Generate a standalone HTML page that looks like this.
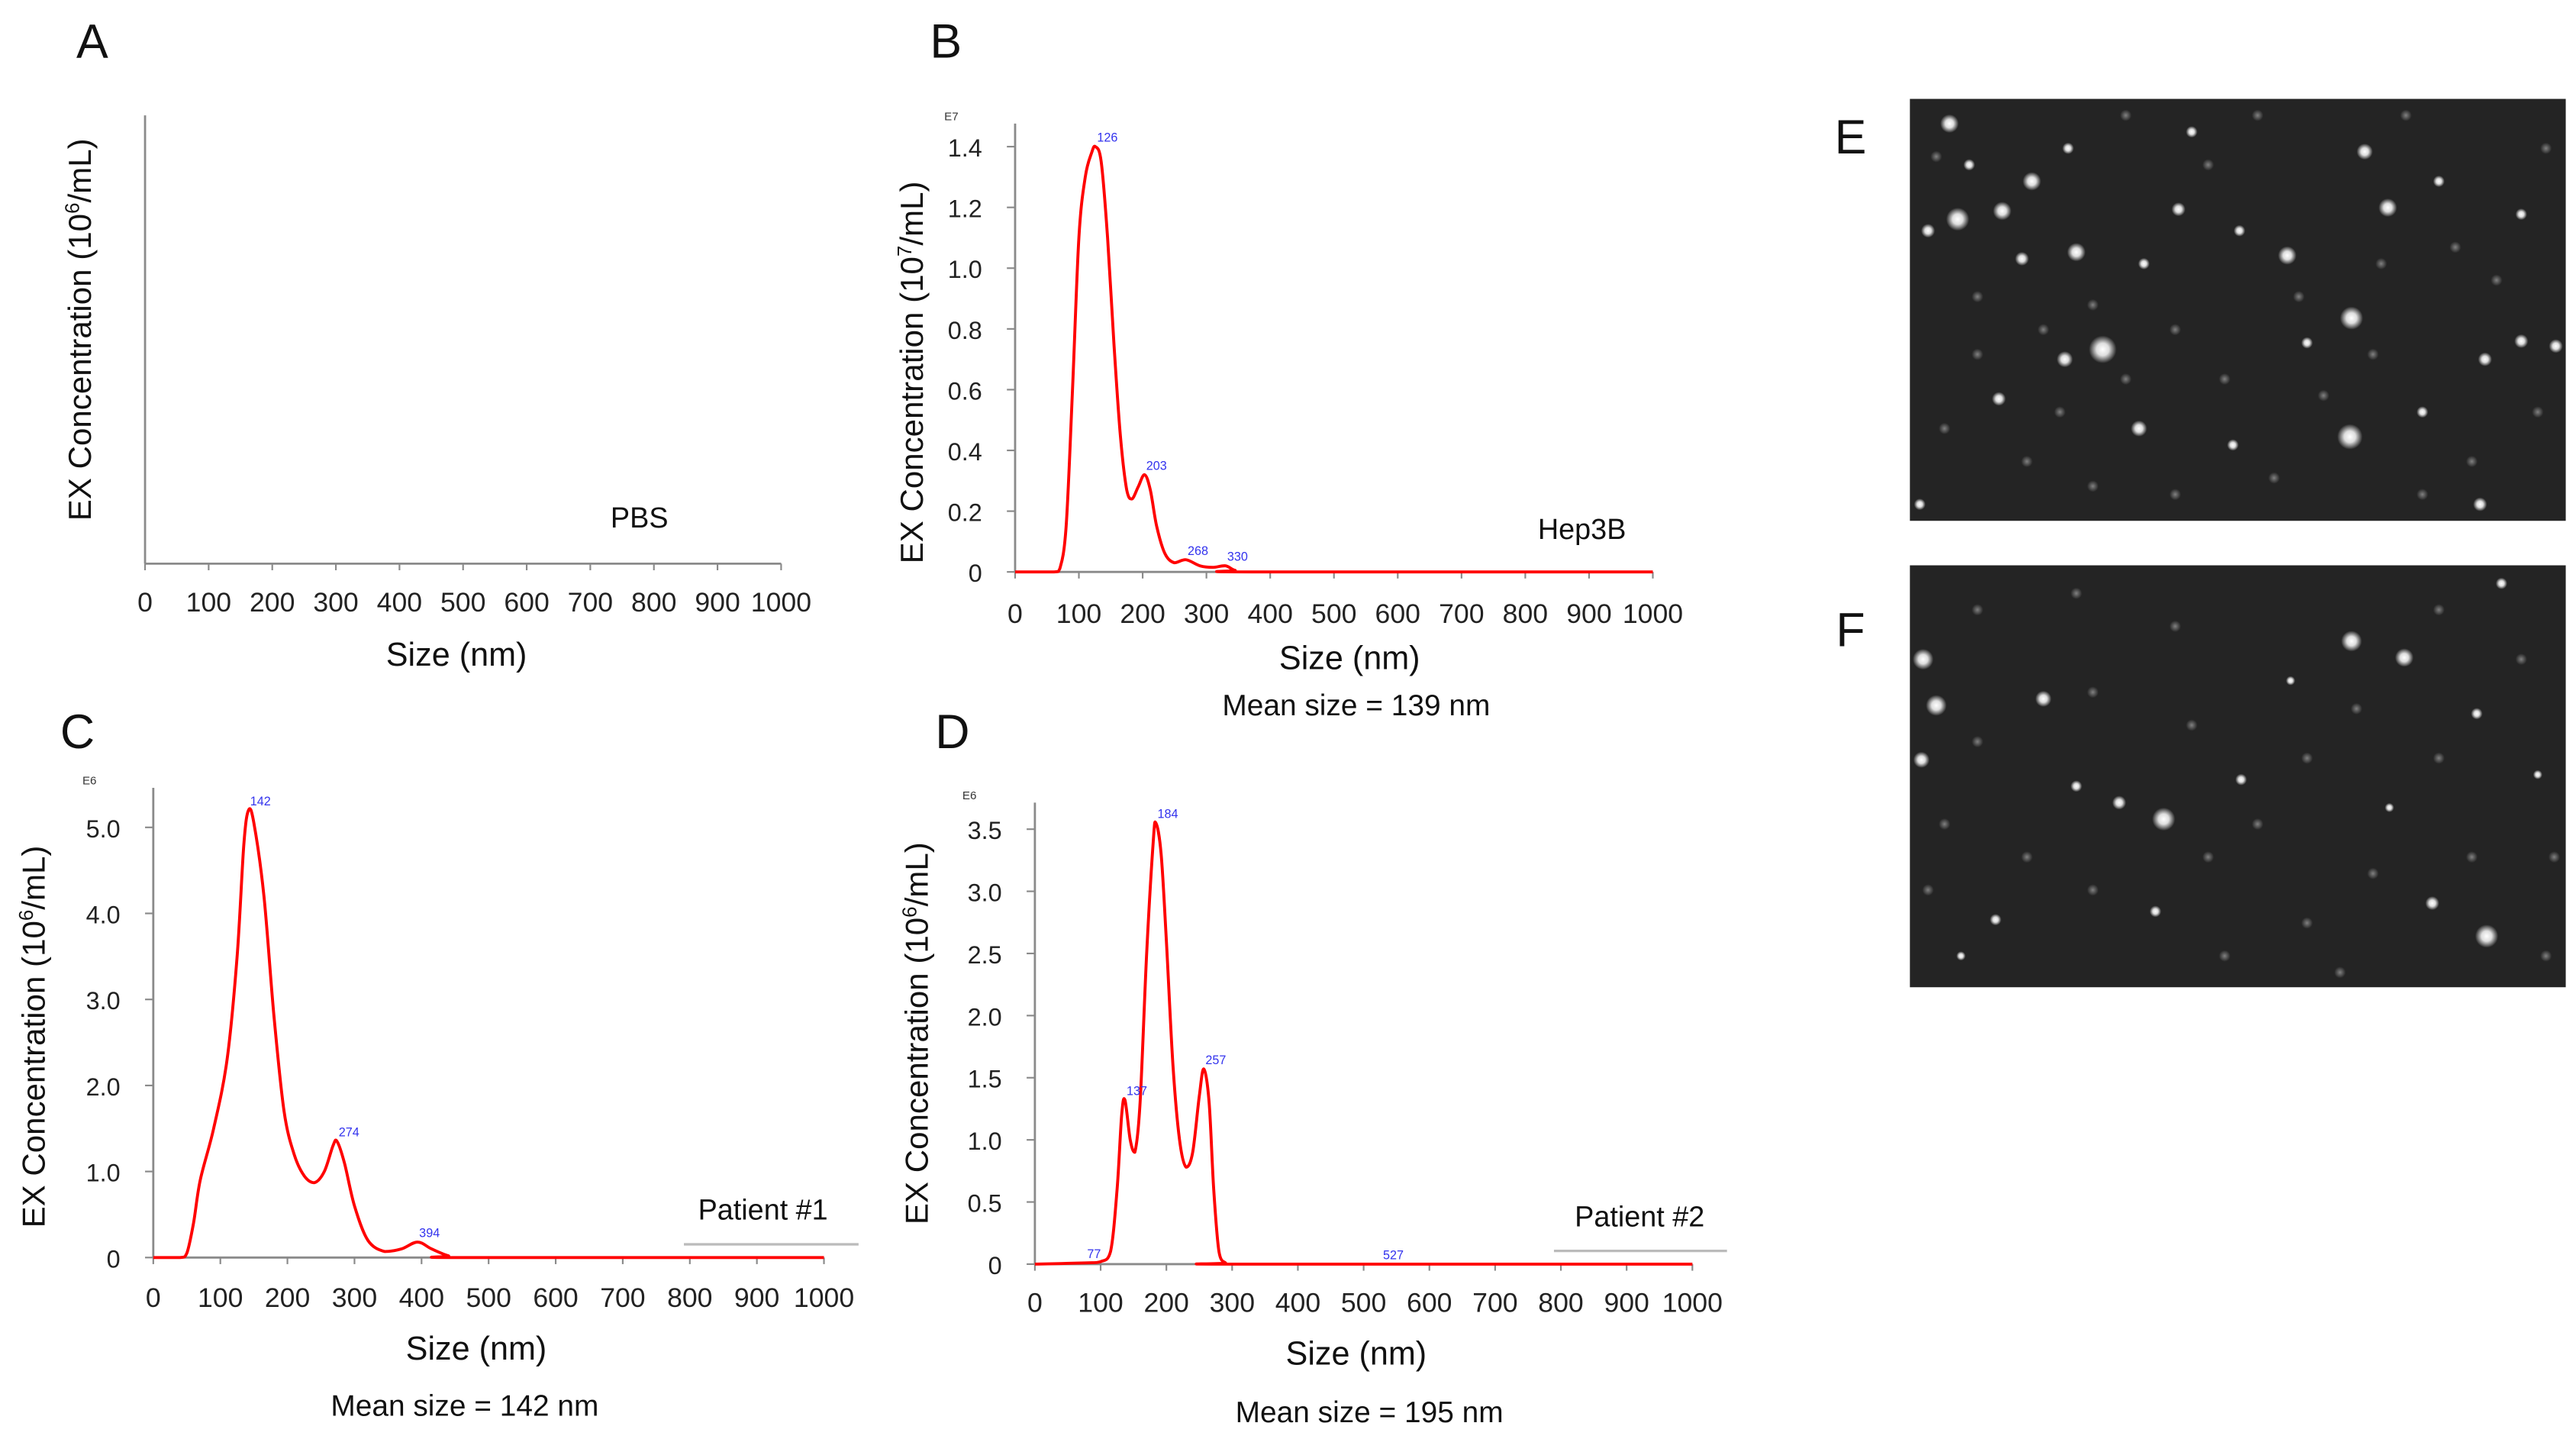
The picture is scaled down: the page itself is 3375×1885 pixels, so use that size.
<!DOCTYPE html>
<html><head><meta charset="utf-8"><style>
html,body{margin:0;padding:0;background:#fff;}
svg{display:block;}
text{font-family:"Liberation Sans",sans-serif;}
</style></head><body>
<svg id="fig" width="3375" height="1885" viewBox="0 0 1563.2 873.1" xmlns="http://www.w3.org/2000/svg">
<defs>
<radialGradient id="dot" cx="50%" cy="50%" r="50%">
<stop offset="0%" stop-color="#fff" stop-opacity="1"/>
<stop offset="45%" stop-color="#fff" stop-opacity="0.85"/>
<stop offset="100%" stop-color="#fff" stop-opacity="0"/>
</radialGradient>
<radialGradient id="faint" cx="50%" cy="50%" r="50%">
<stop offset="0%" stop-color="#aaa" stop-opacity="0.7"/>
<stop offset="100%" stop-color="#aaa" stop-opacity="0"/>
</radialGradient>
</defs>
<g id="root"></g>
</svg>
<script>
// ---- data ----
const xTicks = [0,100,200,300,400,500,600,700,800,900,1000];
const bSizes = [0,60,70,80,90,100,110,120,126,135,145,155,165,175,183,193,203,212,222,235,250,268,290,310,330,345,370,1000];
const bVals  = [0,0,0.01,0.15,0.6,1.1,1.3,1.38,1.4,1.35,1.1,0.75,0.45,0.27,0.24,0.28,0.32,0.27,0.15,0.06,0.03,0.04,0.02,0.015,0.02,0.005,0,0];
const bYTicks = [0,0.2,0.4,0.6,0.8,1.0,1.2,1.4];
const bYLabels = ["0","0.2","0.4","0.6","0.8","1.0","1.2","1.4"];
const bPeaks = [126,203,268,330];
const bPeakVals = [1.4,0.32,0.04,0.02];
const cSizes = [0,40,50,60,70,90,110,125,135,142,150,165,180,195,210,225,240,255,268,274,285,300,320,345,370,394,415,440,460,1000];
const cVals  = [0,0,0.05,0.4,0.9,1.5,2.3,3.5,4.8,5.2,5.05,4.2,2.8,1.7,1.2,0.95,0.87,1.0,1.3,1.35,1.1,0.6,0.2,0.07,0.1,0.18,0.1,0.02,0,0];
const cYTicks = [0,1,2,3,4,5];
const cYLabels = ["0","1.0","2.0","3.0","4.0","5.0"];
const cPeaks = [142,274,394];
const cPeakVals = [5.2,1.35,0.18];
const dSizes = [0,77,100,115,125,132,137,145,152,160,170,180,184,192,200,210,220,230,240,250,257,265,272,280,290,300,1000];
const dVals  = [0,0.01,0.02,0.1,0.6,1.2,1.32,1.0,0.9,1.3,2.5,3.4,3.55,3.3,2.6,1.6,1.0,0.78,0.9,1.35,1.57,1.3,0.6,0.1,0.01,0,0];
const dYTicks = [0,0.5,1,1.5,2,2.5,3,3.5];
const dYLabels = ["0","0.5","1.0","1.5","2.0","2.5","3.0","3.5"];
const dPeaks = [77,137,184,257,527];
const dPeakVals = [0.01,1.32,3.55,1.57,0];

const NS = "http://www.w3.org/2000/svg";
const root = document.getElementById('root');
function mk(tag, attrs, parent, txt){
  const e = document.createElementNS(NS, tag);
  for (const k in attrs) e.setAttribute(k, attrs[k]);
  if (txt !== undefined) e.textContent = txt;
  (parent||root).appendChild(e);
  return e;
}
function smooth(pts){
  let d = "M"+pts[0][0]+","+pts[0][1];
  for (let i=0;i<pts.length-1;i++){
    const p0=pts[Math.max(0,i-1)], p1=pts[i], p2=pts[i+1], p3=pts[Math.min(pts.length-1,i+2)];
    let c1y = p1[1]+(p2[1]-p0[1])/6, c2y = p2[1]-(p3[1]-p1[1])/6;
    const lo=Math.max(p1[1],p2[1]);
    c1y=Math.min(c1y,lo); c2y=Math.min(c2y,lo);
    const c1x = p1[0]+(p2[0]-p0[0])/6, c2x = p2[0]-(p3[0]-p1[0])/6;
    d += " C"+c1x+","+c1y+" "+c2x+","+c2y+" "+p2[0]+","+p2[1];
  }
  return d;
}

function panel(cfg){
  const g = mk('g', {});
  
  
  const X = v => cfg.x0 + (cfg.x1-cfg.x0)*v/1000;
  const Y = v => cfg.y0 - v*cfg.perUnit;
  const ax = mk('line',{x1:cfg.x0,y1:cfg.y0,x2:cfg.x1,y2:cfg.y0,stroke:'#8a8a8a','stroke-width':1.3},g);
   
  const ay = mk('line',{x1:cfg.x0,y1:cfg.y0,x2:cfg.x0,y2:cfg.top,stroke:'#8a8a8a','stroke-width':1.3},g);
   
  xTicks.forEach(t=>{
    mk('line',{x1:X(t),y1:cfg.y0,x2:X(t),y2:cfg.y0+4,stroke:'#8a8a8a','stroke-width':1},g);
    const tl = mk('text',{x:X(t),y:cfg.xLabY,'font-size':16.5,'text-anchor':'middle',fill:'#222'},g,String(t));
     
  });
  if (cfg.yTicks){
    cfg.yTicks.forEach((t,i)=>{
      mk('line',{x1:cfg.x0-5,y1:Y(t),x2:cfg.x0,y2:Y(t),stroke:'#8a8a8a','stroke-width':1},g);
      const tl = mk('text',{x:cfg.x0-20,y:Y(t)+6,'font-size':15,'text-anchor':'end',fill:'#222'},g,cfg.yLabels[i]);
       
    });
    const ex = mk('text',{x:cfg.expX,y:cfg.expY,'font-size':7,fill:'#333'},g,cfg.exp);
     
  }
  if (cfg.sizes){
    const pts = cfg.sizes.map((s,i)=>[X(s),Y(cfg.vals[i])]);
    const p = mk('path',{d:smooth(pts),fill:'none',stroke:'#ff0000','stroke-width':1.8,'stroke-linejoin':'round'},g);
     
    cfg.peaks.forEach((pk,i)=>{
      const t = mk('text',{x:X(pk)+1,y:Y(cfg.peakVals[i])-3,'font-size':7.5,fill:'#3333ee'},g,String(pk));
       
    });
  }
  const xt = mk('text',{x:cfg.xtX,y:cfg.xtY,'font-size':20,'text-anchor':'middle',fill:'#111'},g,'Size (nm)');
   
  const yt = mk('text',{x:0,y:0,'font-size':19.5,'text-anchor':'middle',fill:'#111',transform:`translate(${cfg.ytX},${cfg.ytY}) rotate(-90)`},g);
   
  mk('tspan',{},yt,'EX Concentration (10');
  mk('tspan',{'font-size':12,dy:-7},yt,cfg.pow);
  mk('tspan',{dy:7},yt,'/mL)');
  const sl = mk('text',{x:cfg.sX,y:cfg.sY,'font-size':17.5,'text-anchor':'middle',fill:'#111'},g,cfg.sample);
   
  if (cfg.lineY){
    const ln = mk('line',{x1:cfg.lx1,y1:cfg.lineY,x2:cfg.lx2,y2:cfg.lineY,stroke:'#bbb','stroke-width':1.5},g);
     
  }
  if (cfg.mean){
    const m = mk('text',{x:cfg.mX,y:cfg.mY,'font-size':18,'text-anchor':'middle',fill:'#111'},g,cfg.mean);
     
  }
  const L = mk('text',{x:cfg.LX,y:cfg.LY,'font-size':29,'text-anchor':'middle',fill:'#111'},g,cfg.letter);
   
}

panel({name:'panel-a',letter:'A',LX:56,LY:35,x0:88,x1:474,y0:342,top:70,perUnit:1,xLabY:371,
  xtX:277,xtY:404,ytX:55,ytY:200,pow:'6',sample:'PBS',sX:388,sY:320});
panel({name:'panel-b',letter:'B',LX:574,LY:35,x0:616,x1:1003,y0:347,top:75,perUnit:184.3,xLabY:378,
  yTicks:bYTicks,yLabels:bYLabels,exp:'E7',expX:573,expY:73,sizes:bSizes,vals:bVals,peaks:bPeaks,peakVals:bPeakVals,
  xtX:819,xtY:406,ytX:560,ytY:226,pow:'7',sample:'Hep3B',sX:960,sY:327,mean:'Mean size = 139 nm',mX:823,mY:434});
panel({name:'panel-c',letter:'C',LX:47,LY:454,x0:93,x1:500,y0:763,top:478,perUnit:52.2,xLabY:793,
  yTicks:cYTicks,yLabels:cYLabels,exp:'E6',expX:50,expY:476,sizes:cSizes,vals:cVals,peaks:cPeaks,peakVals:cPeakVals,
  xtX:289,xtY:825,ytX:27,ytY:629,pow:'6',sample:'Patient #1',sX:463,sY:740,lineY:755,lx1:415,lx2:521,mean:'Mean size = 142 nm',mX:282,mY:859});
panel({name:'panel-d',letter:'D',LX:578,LY:454,x0:628,x1:1027,y0:767,top:487,perUnit:75.4,xLabY:796,
  yTicks:dYTicks,yLabels:dYLabels,exp:'E6',expX:584,expY:485,sizes:dSizes,vals:dVals,peaks:dPeaks,peakVals:dPeakVals,
  xtX:823,xtY:828,ytX:563,ytY:627,pow:'6',sample:'Patient #2',sX:995,sY:744,lineY:759,lx1:943,lx2:1048,mean:'Mean size = 195 nm',mX:831,mY:863});

// ---- micrographs ----
const eDots = [[1183,75,4],[1233,110,4],[1188,133,5],[1215,128,4],[1260,153,4],[1276,212,6],[1253,218,3.5],[1298,260,3.5],[1322,127,3],[1388,155,4],[1427,193,5],[1449,126,4],[1435,92,3.5],[1426,265,5.5],[1508,218,3],[1530,207,3],[1551,210,3],[1359,140,2.5],[1227,157,3],[1170,140,3],[1301,160,2.5],[1213,242,3],[1355,270,2.5],[1505,306,3],[1400,208,2.5],[1165,306,2.5],[1195,100,2.5],[1255,90,2.5],[1330,80,2.5],[1480,110,2.5],[1470,250,2.5],[1530,130,2.5]];
const eFaint = [[1175,95],[1200,180],[1240,200],[1270,185],[1290,230],[1320,200],[1340,100],[1370,70],[1395,180],[1410,240],[1445,160],[1460,70],[1490,150],[1515,170],[1540,250],[1500,280],[1470,300],[1380,290],[1320,300],[1270,295],[1230,280],[1180,260],[1200,215],[1350,230],[1440,215],[1545,90],[1290,70],[1250,250]];
const fDots = [[1167,400,4.5],[1175,428,4.5],[1240,424,3.5],[1166,461,3.5],[1286,487,3],[1313,497,5],[1260,477,2.5],[1427,389,4.5],[1459,399,4],[1518,354,2.5],[1509,568,5],[1476,548,3],[1503,433,2.5],[1360,473,2.5],[1211,558,2.5],[1308,553,2.5],[1450,490,2],[1390,413,2],[1540,470,2],[1190,580,2]];
const fFaint = [[1200,370],[1270,420],[1330,440],[1370,500],[1400,460],[1430,430],[1480,460],[1530,400],[1550,520],[1500,520],[1440,530],[1400,560],[1350,580],[1270,540],[1230,520],[1180,500],[1200,450],[1320,380],[1260,360],[1480,370],[1420,590],[1545,580],[1170,540],[1340,520]];
function micro(name,x,y,w,h,dots,faint,letter,lx,ly){
  const g = mk('g',{});
  
  
  mk('rect',{x:x,y:y,width:w,height:h,fill:'#242424'},g);
  faint.forEach(d=>{
    mk('circle',{cx:d[0],cy:d[1],r:3.5,fill:'url(#faint)'},g);
  });
  dots.forEach(d=>{
    const c = mk('circle',{cx:d[0],cy:d[1],r:d[2]*1.4,fill:'url(#dot)'},g);
     
  });
  const L = mk('text',{x:lx,y:ly,'font-size':29,'text-anchor':'middle',fill:'#111'},g,letter);
   
}
micro('micrograph-e',1159,60,398,256,eDots,eFaint,'E',1123,93);
micro('micrograph-f',1159,343,398,256,fDots,fFaint,'F',1123,392);
</script>
</body></html>
